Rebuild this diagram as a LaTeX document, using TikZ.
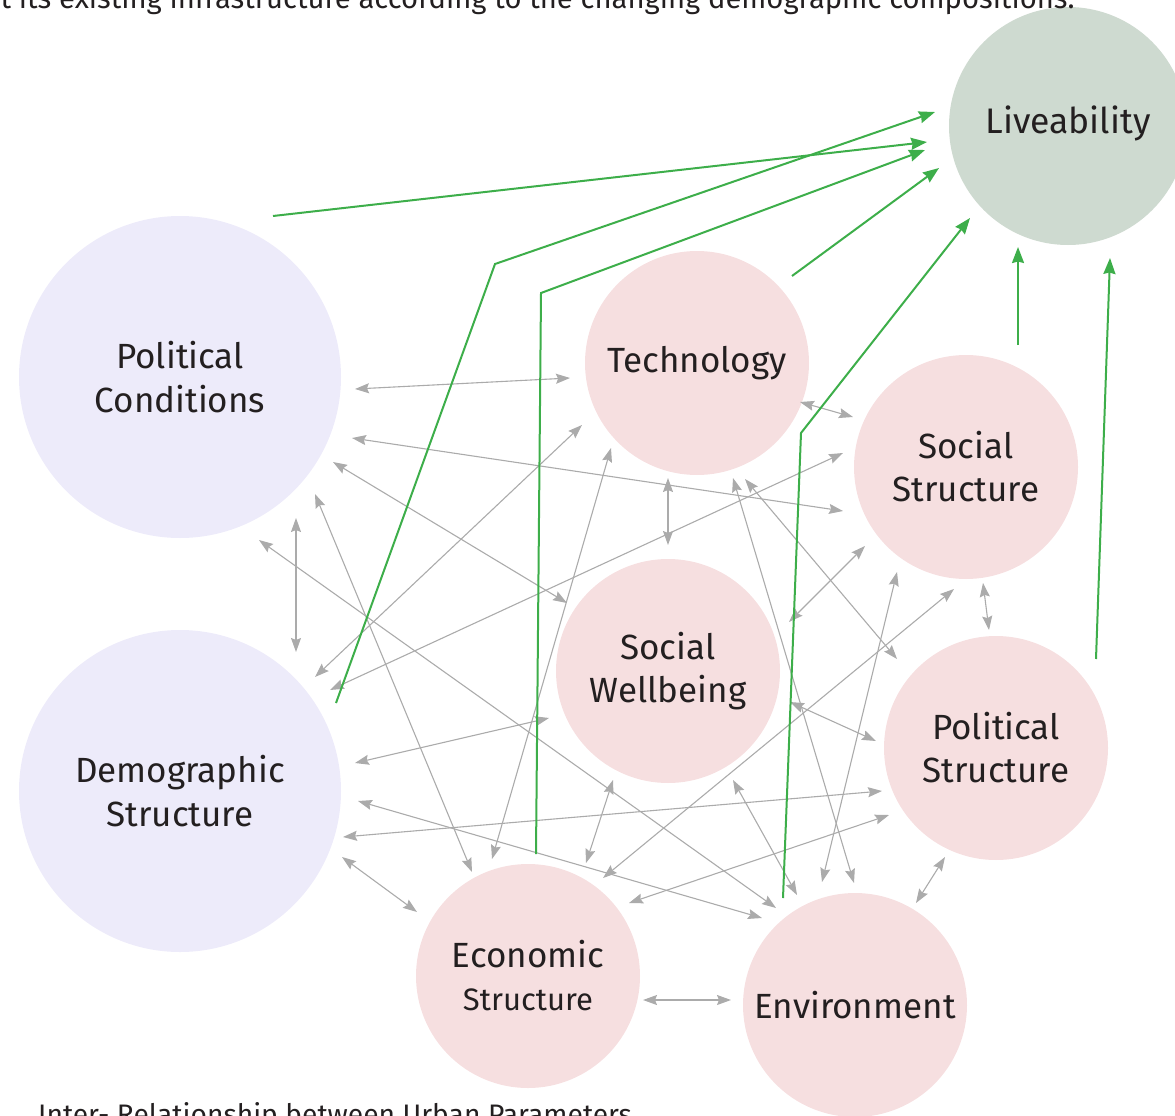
\documentclass[tikz,border=0pt]{standalone}
\usepackage{fontspec}
\setmainfont{Fira Sans}
\usetikzlibrary{arrows.meta,calc}
\definecolor{lav}{HTML}{EDEBFA}
\definecolor{pinkc}{HTML}{F6DFE0}
\definecolor{livec}{HTML}{CEDAD0}
\definecolor{grayar}{HTML}{ABABAB}
\definecolor{greenar}{HTML}{3DAE4A}
\definecolor{txt}{HTML}{231F20}
\tikzset{
  bigc/.style={circle,fill=lav,minimum size=322pt,inner sep=0pt,align=center,font=\fontsize{35}{44}\selectfont,text=txt},
  smc/.style={circle,fill=pinkc,minimum size=224pt,inner sep=0pt,align=center,font=\fontsize{35}{43}\selectfont,text=txt},
  livec/.style={circle,fill=livec,minimum size=238pt,inner sep=0pt,align=center,font=\fontsize{35.5}{43}\selectfont,text=txt},
  gar/.style={draw=grayar,line width=1.1pt,{Stealth[length=14pt,width=10pt,inset=2pt]}-{Stealth[length=14pt,width=10pt,inset=2pt]}},
  grn/.style={draw=greenar,line width=2pt,-{Stealth[length=16pt,width=12pt,inset=1.5pt]}},
  captxt/.style={text=txt,font=\fontsize{29.2}{34}\selectfont,inner sep=0pt},
  captxtb/.style={text=txt,font=\fontsize{28.2}{32}\selectfont,inner sep=0pt}
}
\begin{document}
\begin{tikzpicture}[x=1pt,y=-1pt]
\useasboundingbox (0,0) rectangle (1175,1116);
\clip (0,0) rectangle (1175,1116);
% circles
\node[livec] (live) at (1068,126) {\raisebox{13pt}{Liveability}};
\node[bigc] (pc) at (180,377) {Political\\Conditions};
\node[bigc] (ds) at (180,791) {Demographic\\Structure};
\node[smc] (tech) at (697,363) {Technology};
\node[smc] (ss) at (966,467) {Social\\Structure};
\node[smc] (sw) at (668,671) {Social\\Wellbeing};
\node[smc] (ps) at (996,748) {Political\\Structure};
\node[smc] (es) at (528,976) {Economic\\{\fontsize{31}{39}\selectfont Structure}};
\node[smc] (env) at (855,1005) {Environment};
% texts
\node[captxt,anchor=base west] (top) at (-16.5,9) {ut its existing infrastructure according to the changing demographic compositions.};
\node[captxtb,anchor=base west] (bot) at (38,1124) {Inter- Relationship between Urban Parameters};
% gray connectors
\draw[gar] ($(pc)+(175,12)$) -- ($(tech)+(-127,15)$);
\draw[gar] ($(pc)+(172,61)$) -- ($(ss)+(-123,44)$);
\draw[gar] ($(pc)+(153,85)$) -- ($(sw)+(-101,-68)$);
\draw[gar] ($(pc)+(135,117)$) -- ($(es)+(-56,-104)$);
\draw[gar] ($(pc)+(116,141)$) -- ($(ds)+(116,-139)$);
\draw[gar] ($(pc)+(79,163)$) -- ($(env)+(-79,-97)$);
\draw[gar] ($(ds)+(135,-114)$) -- ($(tech)+(-115,62)$);
\draw[gar] ($(ds)+(150,-101)$) -- ($(ss)+(-123,-14)$);
\draw[gar] ($(ds)+(175,-28)$) -- ($(sw)+(-119,47)$);
\draw[gar] ($(ds)+(178,10)$) -- ($(env)+(-93,-87)$);
\draw[gar] ($(ds)+(163,46)$) -- ($(ps)+(-114,43)$);
\draw[gar] ($(ds)+(162,66)$) -- ($(es)+(-111,-64)$);
\draw[gar] ($(tech)+(-86,85)$) -- ($(es)+(-36,-117)$);
\draw[gar] ($(tech)+(-29,115)$) -- ($(sw)+(0,-126)$);
\draw[gar] ($(tech)+(103,39)$) -- ($(ss)+(-113,-50)$);
\draw[gar] ($(tech)+(36,115)$) -- ($(env)+(-1,-122)$);
\draw[gar] ($(tech)+(48,116)$) -- ($(ps)+(-99,-89)$);
\draw[gar] ($(ss)+(-101,79)$) -- ($(sw)+(121,-49)$);
\draw[gar] ($(ss)+(17,116)$) -- ($(ps)+(-7,-118)$);
\draw[gar] ($(ss)+(-12,122)$) -- ($(es)+(75,-98)$);
\draw[gar] ($(ss)+(-69,105)$) -- ($(env)+(-33,-123)$);
\draw[gar] ($(sw)+(122,31)$) -- ($(ps)+(-120,-7)$);
\draw[gar] ($(sw)+(-55,109)$) -- ($(es)+(58,-113)$);
\draw[gar] ($(sw)+(65,109)$) -- ($(env)+(-58,-110)$);
\draw[gar] ($(ps)+(-107,67)$) -- ($(es)+(101,-73)$);
\draw[gar] ($(ps)+(-51,109)$) -- ($(env)+(61,-102)$);
\draw[gar] ($(es)+(115,24)$) -- ($(env)+(-124,-5)$);
% green connectors
\coordinate (b2) at (495,264);
\coordinate (b3) at (541,293);
\coordinate (b5) at (801,433);
\draw[grn] ($(pc)+(93,-161)$) -- ($(live)+(-141,16)$);
\draw[grn] ($(ds)+(156,-88)$) -- (b2) -- ($(live)+(-133,-14)$);
\draw[grn] ($(es)+(8,-122)$) -- (b3) -- ($(live)+(-143,24)$);
\draw[grn] ($(tech)+(95,-87)$) -- ($(live)+(-129,42)$);
\draw[grn] ($(env)+(-72,-107)$) -- (b5) -- ($(live)+(-98,92)$);
\draw[grn] ($(ss)+(52,-122)$) -- ($(live)+(-50,121)$);
\draw[grn] ($(ps)+(100,-89)$) -- ($(live)+(42,132)$);
\end{tikzpicture}
\end{document}
